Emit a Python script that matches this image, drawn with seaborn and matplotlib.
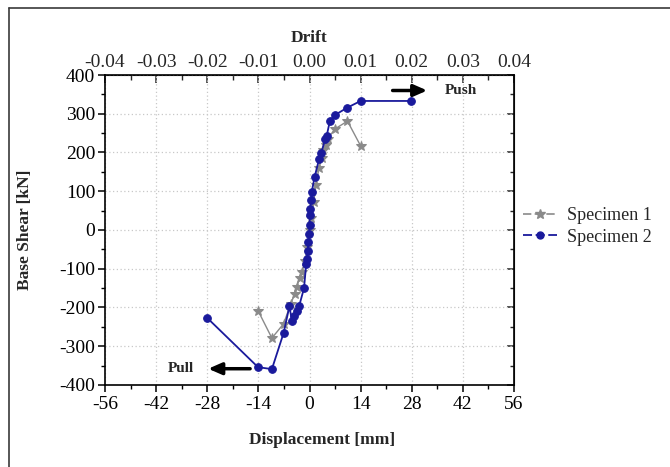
import numpy as np
import pandas as pd
import matplotlib
matplotlib.use("Agg")
import matplotlib.pyplot as plt
import seaborn as sns
from matplotlib.ticker import MultipleLocator, FormatStrFormatter
from matplotlib.lines import Line2D

# Data
s1_x = [-14.1, -10.3, -7.1, -5.1, -4.1, -3.5, -2.7, -2.1, -1.2, -0.6, 0.0, 0.4, 1.1, 1.8, 2.6, 3.3, 3.8, 4.4, 5.0, 7.0, 10.4, 14.0]
s1_y = [-208, -279, -242, -190, -166, -146, -124, -109, -80, -45, 0, 30, 71, 117, 160, 186, 206, 220, 236, 261, 281, 217]

s2_x = [-28.0, -14.1, -10.3, -7.1, -5.5, -4.8, -4.2, -3.5, -2.8, -1.5, -0.9, -0.7, -0.5, -0.3, -0.1, 0.0, 0.1, 0.2, 0.4, 0.6, 1.4, 2.6, 3.2, 4.3, 4.7, 5.6, 7.0, 10.4, 14.0, 27.7]
s2_y = [-227, -354, -359, -266, -197, -235, -221, -210, -195, -150, -87, -74, -53, -31, -10, 12, 38, 55, 77, 98, 137, 182, 199, 234, 243, 282, 297, 316, 333, 333]

x_ticks = [-56, -42, -28, -14, 0, 14, 28, 42, 56]
y_ticks = [-400, -300, -200, -100, 0, 100, 200, 300, 400]
drift_ticks = [-0.04, -0.03, -0.02, -0.01, 0.00, 0.01, 0.02, 0.03, 0.04]
labels = ["Specimen 1", "Specimen 2"]

sns.set_style("white")
plt.rcParams['font.family'] = ['Liberation Serif', 'DejaVu Serif']
plt.rcParams['axes.unicode_minus'] = False

fig = plt.figure(figsize=(6.7, 4.67), dpi=100)
ax = fig.add_axes([0.1567, 0.1756, 0.6105, 0.6638])

df1 = pd.DataFrame({"x": s1_x, "y": s1_y})
df2 = pd.DataFrame({"x": s2_x, "y": s2_y})
gray = "#8a8a8a"
blue = "#1a1a9c"
sns.lineplot(data=df1, x="x", y="y", sort=False, estimator=None, ax=ax, color=gray,
             marker="*", markersize=7, markeredgecolor=gray, linewidth=1.0, zorder=3)
sns.lineplot(data=df2, x="x", y="y", sort=False, estimator=None, ax=ax, color=blue,
             marker="o", markersize=5.5, markeredgecolor=blue, linewidth=1.3, zorder=4)

ax.set_xlim(-56, 56)
ax.set_ylim(-400, 400)
ax.set_xticks(x_ticks)
ax.set_yticks(y_ticks)
ax.xaxis.set_minor_locator(MultipleLocator(7))
ax.yaxis.set_minor_locator(MultipleLocator(50))
ax.grid(True, which="major", linestyle=(0, (1, 2)), color="#c8c8c8", linewidth=0.9)
for s in ax.spines.values():
    s.set_color("black")
    s.set_linewidth(1.2)
ax.tick_params(which="both", direction="out", top=False, right=False, left=True, bottom=True,
               labelsize=14, colors="black")
ax.tick_params(axis="x", pad=3)
ax.tick_params(axis="y", pad=2)
ax.tick_params(which="major", length=5, width=1.1)
ax.tick_params(which="minor", length=3, width=1.0)
# inward ticks on the right side
ax_r = ax.secondary_yaxis("right")
ax_r.set_yticks(y_ticks)
ax_r.yaxis.set_minor_locator(MultipleLocator(50))
ax_r.tick_params(which="both", direction="in", labelright=False)
ax_r.tick_params(which="major", length=5, width=1.1)
ax_r.tick_params(which="minor", length=3, width=1.0)

ax.set_xlabel("Displacement [mm]", fontsize=12.5, fontweight="bold")
ax.set_ylabel("Base Shear [kN]", fontsize=12.5, fontweight="bold")
ax.xaxis.set_label_coords(0.53, -0.153, transform=ax.transAxes)
ax.yaxis.set_label_coords(-0.176, 0.5, transform=ax.transAxes)

sec = ax.secondary_xaxis("top", functions=(lambda v: v / 1400.0, lambda d: d * 1400.0))
sec.set_xticks(drift_ticks)
sec.xaxis.set_major_formatter(FormatStrFormatter("%.2f"))
sec.xaxis.set_minor_locator(MultipleLocator(0.005))
sec.tick_params(which="both", direction="in", labelsize=14, pad=3)
sec.tick_params(which="major", length=6, width=1.1)
sec.tick_params(which="minor", length=3.5, width=1.0)
sec.set_xlabel("Drift", fontsize=12.5, fontweight="bold")
sec.xaxis.set_label_coords(0.5, 1.105, transform=ax.transAxes)

# Annotations
ax.annotate("", xy=(33, 360), xytext=(22, 360),
            arrowprops=dict(arrowstyle="-|>,head_length=0.8,head_width=0.35", color="black", lw=2.5))
ax.text(37, 360, "Push", fontsize=11, fontweight="bold", va="center", ha="left")
ax.annotate("", xy=(-28.5, -358), xytext=(-15.5, -358),
            arrowprops=dict(arrowstyle="-|>,head_length=0.8,head_width=0.35", color="black", lw=2.5))
ax.text(-31.5, -358, "Pull", fontsize=11, fontweight="bold", va="center", ha="right")

handles = [Line2D([], [], color=gray, linestyle=(0, (5, 2)), marker="*", markersize=7, lw=1.2),
           Line2D([], [], color=blue, linestyle=(0, (5, 2)), marker="o", markersize=5, lw=1.3)]
fig.legend(handles, labels, loc="center left", bbox_to_anchor=(0.756, 0.515), frameon=False,
           fontsize=13, handlelength=1.9, handletextpad=0.55, labelspacing=0.25)

# partial frame (top and left edges) as in the reference
fig.add_artist(Line2D([0.0127, 1.0], [0.982, 0.982], transform=fig.transFigure, color="#3a3a3a", lw=1.2))
fig.add_artist(Line2D([0.0127, 0.0127], [0.0, 0.982], transform=fig.transFigure, color="#3a3a3a", lw=1.2))

fig.savefig("out.png", dpi=100)
